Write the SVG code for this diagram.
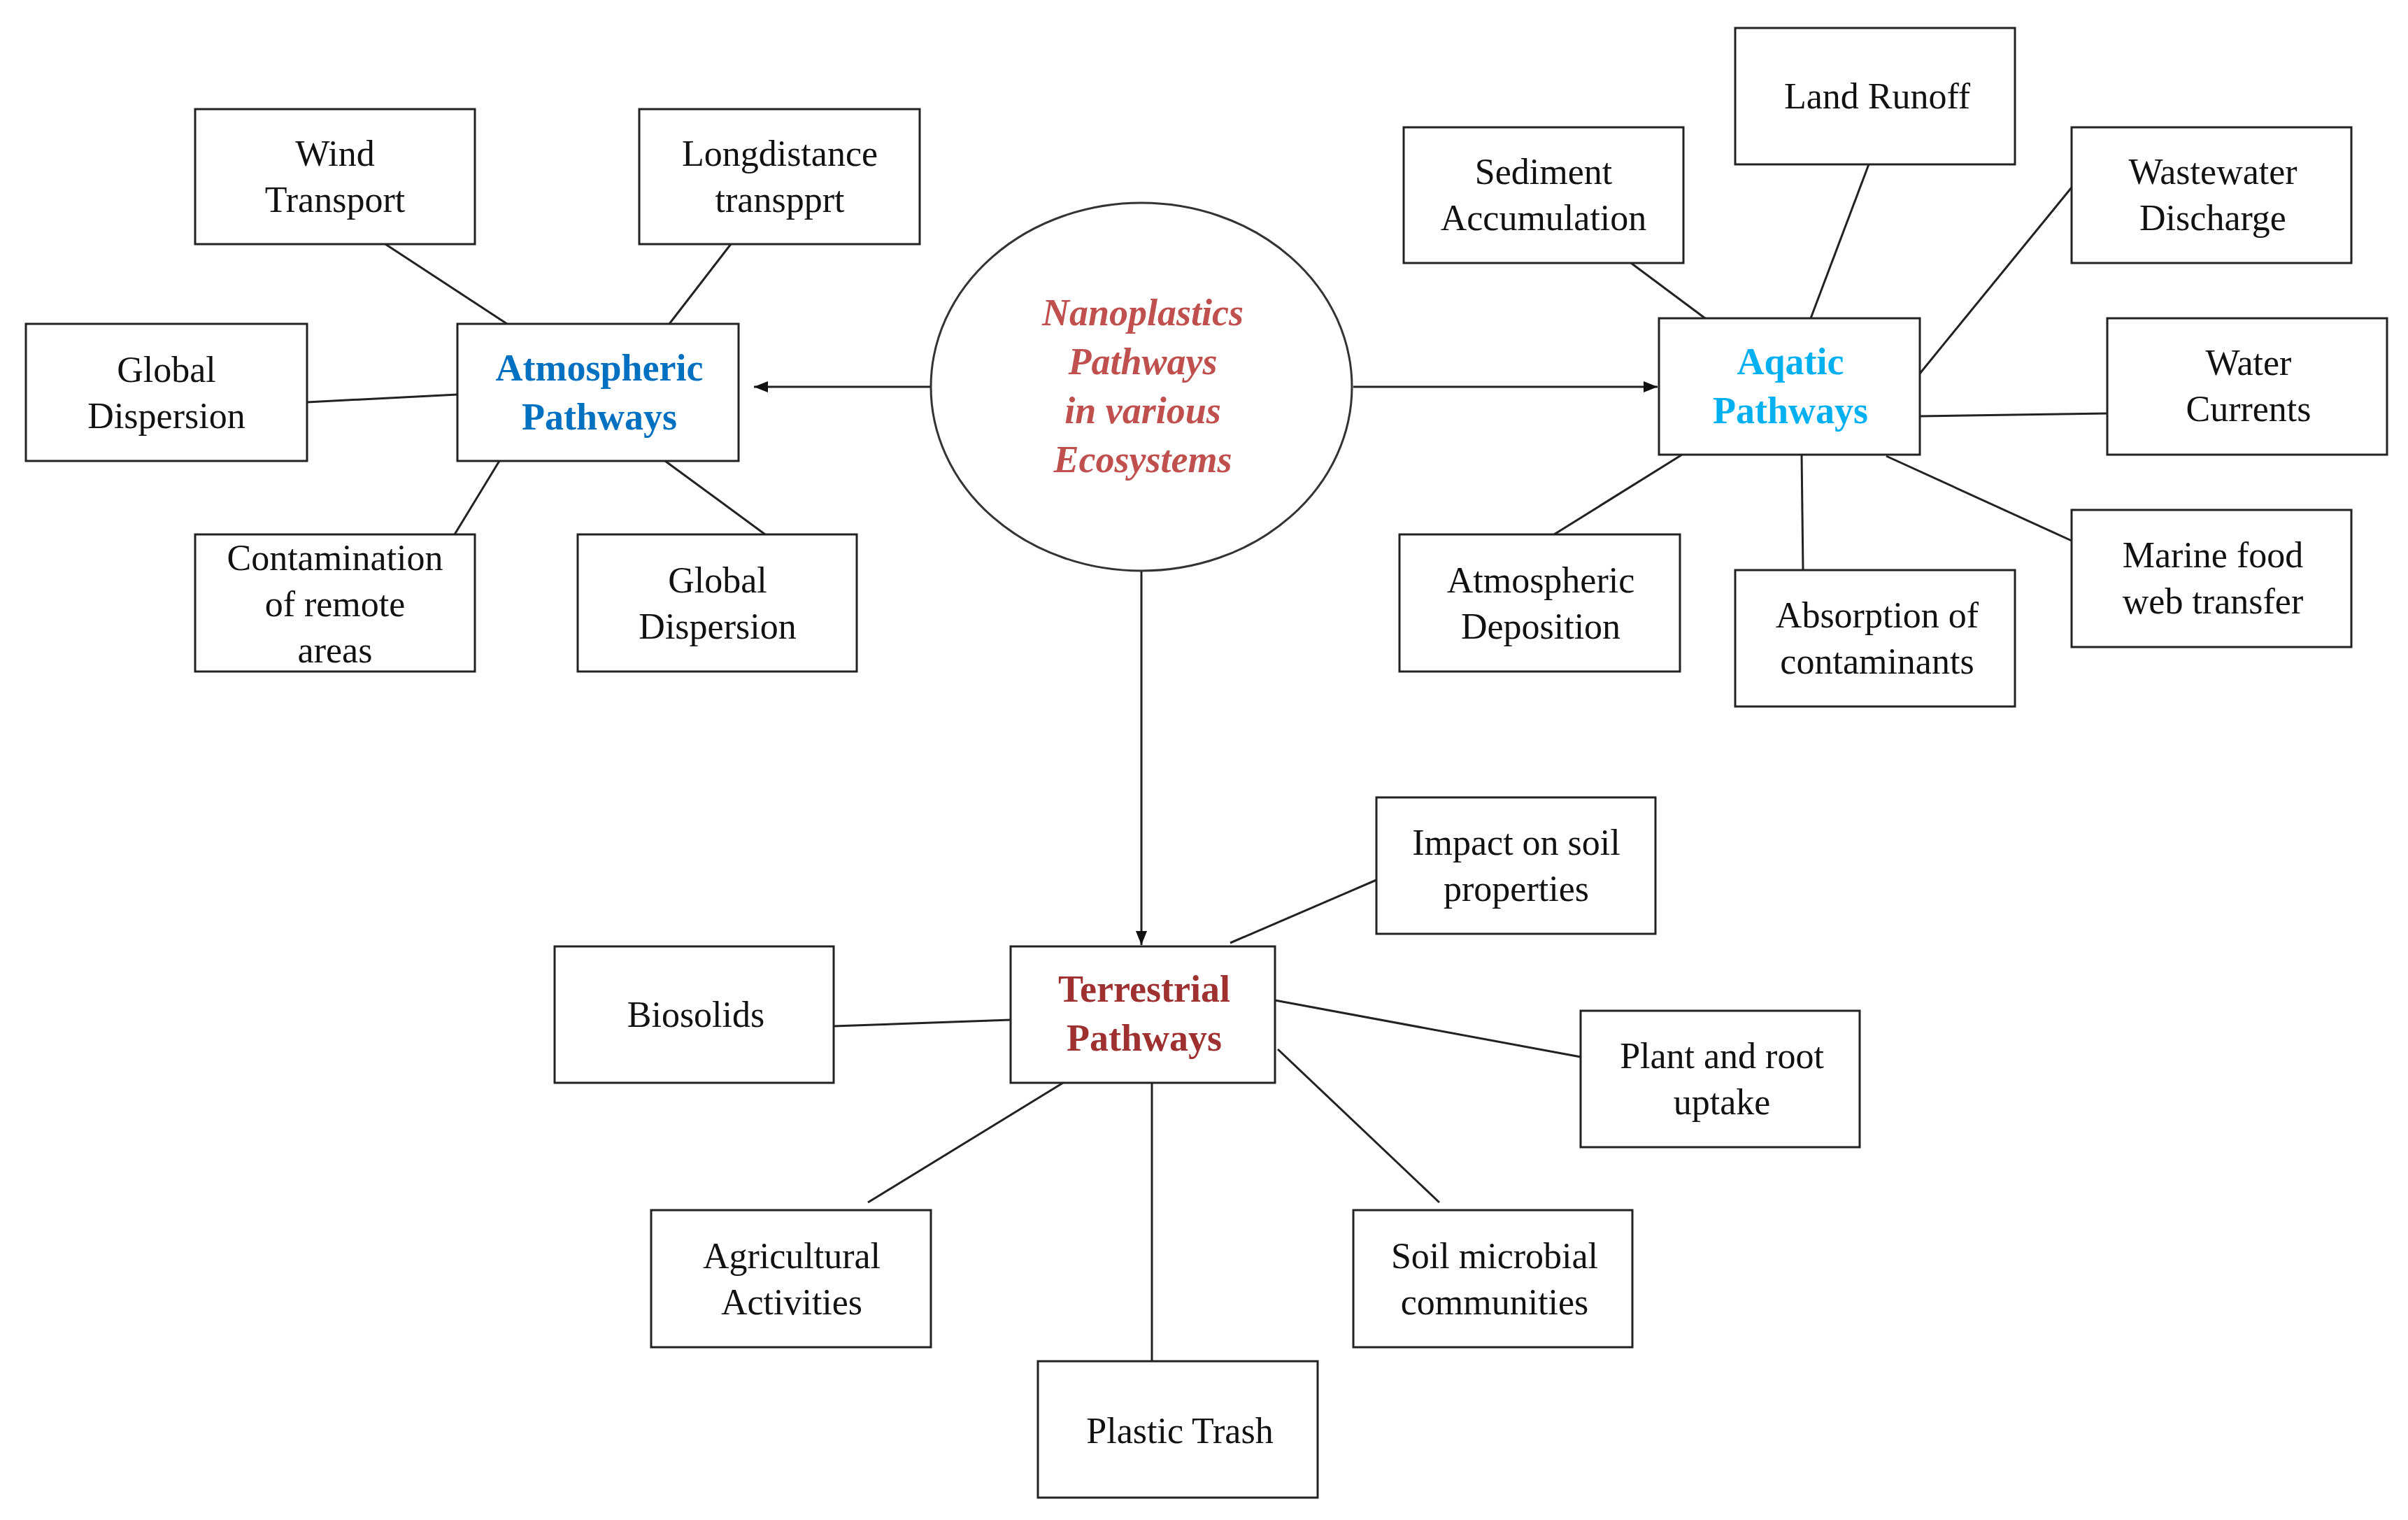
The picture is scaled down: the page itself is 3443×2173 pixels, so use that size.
<svg xmlns="http://www.w3.org/2000/svg" width="3443" height="2173" viewBox="0 0 3443 2173">
<style>
rect{fill:#fff;stroke:#222;stroke-width:3}
.c line{stroke:#222;stroke-width:3}
text{font-family:"Liberation Serif","Times New Roman",serif;font-size:52px;fill:#111;text-anchor:middle}
.t{font-weight:bold;font-size:54px}
</style>
<defs><marker id="a" viewBox="0 0 10 10" refX="10" refY="5" markerWidth="7" markerHeight="7" orient="auto" markerUnits="userSpaceOnUse"><path d="M0,0L10,5L0,10z" fill="#111"/></marker>
<marker id="ah" viewBox="0 0 10 10" refX="10" refY="5" markerWidth="20" markerHeight="20" orient="auto" markerUnits="userSpaceOnUse"><path d="M0,1L10,5L0,9z" fill="#111"/></marker></defs>
<rect x="0" y="0" width="3443" height="2173" style="stroke:none"/>
<g class="c">
<line x1="551" y1="349" x2="725" y2="463"/>
<line x1="1045" y1="349" x2="957" y2="463"/>
<line x1="439" y1="575" x2="654" y2="564"/>
<line x1="650" y1="764" x2="714" y2="659"/>
<line x1="1094" y1="764" x2="951" y2="659"/>
<line x1="1331" y1="553" x2="1078" y2="553" marker-end="url(#ah)"/>
<line x1="1935" y1="553" x2="2370" y2="553" marker-end="url(#ah)"/>
<line x1="1632" y1="817" x2="1632" y2="1351" marker-end="url(#ah)"/>
<line x1="2332" y1="376" x2="2438" y2="455"/>
<line x1="2672" y1="235" x2="2589" y2="455"/>
<line x1="2962" y1="268" x2="2745" y2="534"/>
<line x1="3013" y1="591" x2="2745" y2="595"/>
<line x1="2962" y1="773" x2="2697" y2="652"/>
<line x1="2578" y1="815" x2="2576" y2="650"/>
<line x1="2214" y1="769" x2="2405" y2="650"/>
<line x1="1968" y1="1258" x2="1759" y2="1348"/>
<line x1="1192" y1="1467" x2="1445" y2="1458"/>
<line x1="2260" y1="1511" x2="1823" y2="1430"/>
<line x1="1241" y1="1719" x2="1520" y2="1548"/>
<line x1="1647" y1="1946" x2="1647" y2="1548"/>
<line x1="2058" y1="1719" x2="1827" y2="1500"/>
</g>
<g id="center"><ellipse cx="1632" cy="553" rx="301" ry="263" fill="#fff" stroke="#333" stroke-width="3"/>
<text style="font-style:italic;font-weight:bold;fill:#C0504D;font-size:54px"><tspan x="1634" y="465">Nanoplastics</tspan><tspan x="1634" y="535">Pathways</tspan><tspan x="1634" y="605">in various</tspan><tspan x="1634" y="675">Ecosystems</tspan></text></g>
<g id="atm"><rect x="654" y="463" width="402" height="196"/><text class="t" style="fill:#0070C0"><tspan x="857" y="544">Atmospheric</tspan><tspan x="857" y="614">Pathways</tspan></text></g>
<g id="wind"><rect x="279" y="156" width="400" height="193"/><text><tspan x="479" y="237">Wind</tspan><tspan x="479" y="303">Transport</tspan></text></g>
<g id="long"><rect x="914" y="156" width="401" height="193"/><text><tspan x="1115" y="237">Longdistance</tspan><tspan x="1115" y="303">transpprt</tspan></text></g>
<g id="gd1"><rect x="37" y="463" width="402" height="196"/><text><tspan x="238" y="546">Global</tspan><tspan x="238" y="612">Dispersion</tspan></text></g>
<g id="contam"><rect x="279" y="764" width="400" height="196"/><text><tspan x="479" y="815">Contamination</tspan><tspan x="479" y="881">of remote</tspan><tspan x="479" y="947">areas</tspan></text></g>
<g id="gd2"><rect x="826" y="764" width="399" height="196"/><text><tspan x="1026" y="847">Global</tspan><tspan x="1026" y="913">Dispersion</tspan></text></g>
<g id="aq"><rect x="2372" y="455" width="373" height="195"/><text class="t" style="fill:#00B0F0"><tspan x="2560" y="535">Aqatic</tspan><tspan x="2560" y="605">Pathways</tspan></text></g>
<g id="sed"><rect x="2007" y="182" width="400" height="194"/><text><tspan x="2207" y="263">Sediment</tspan><tspan x="2207" y="329">Accumulation</tspan></text></g>
<g id="land"><rect x="2481" y="40" width="400" height="195"/><text><tspan x="2684" y="155">Land Runoff</tspan></text></g>
<g id="waste"><rect x="2962" y="182" width="400" height="194"/><text><tspan x="3164" y="263">Wastewater</tspan><tspan x="3164" y="329">Discharge</tspan></text></g>
<g id="water"><rect x="3013" y="455" width="400" height="195"/><text><tspan x="3215" y="536">Water</tspan><tspan x="3215" y="602">Currents</tspan></text></g>
<g id="atmdep"><rect x="2001" y="764" width="401" height="196"/><text><tspan x="2203" y="847">Atmospheric</tspan><tspan x="2203" y="913">Deposition</tspan></text></g>
<g id="abs"><rect x="2481" y="815" width="400" height="195"/><text><tspan x="2684" y="897">Absorption of</tspan><tspan x="2684" y="963">contaminants</tspan></text></g>
<g id="marine"><rect x="2962" y="729" width="400" height="196"/><text><tspan x="3164" y="811">Marine food</tspan><tspan x="3164" y="877">web transfer</tspan></text></g>
<g id="ter"><rect x="1445" y="1353" width="378" height="195"/><text class="t" style="fill:#9E3030"><tspan x="1636" y="1432">Terrestrial</tspan><tspan x="1636" y="1502">Pathways</tspan></text></g>
<g id="impact"><rect x="1968" y="1140" width="399" height="195"/><text><tspan x="2168" y="1222">Impact on soil</tspan><tspan x="2168" y="1288">properties</tspan></text></g>
<g id="bio"><rect x="793" y="1353" width="399" height="195"/><text><tspan x="995" y="1468">Biosolids</tspan></text></g>
<g id="plant"><rect x="2260" y="1445" width="399" height="195"/><text><tspan x="2462" y="1527">Plant and root</tspan><tspan x="2462" y="1593">uptake</tspan></text></g>
<g id="agri"><rect x="931" y="1730" width="400" height="196"/><text><tspan x="1132" y="1813">Agricultural</tspan><tspan x="1132" y="1879">Activities</tspan></text></g>
<g id="soil"><rect x="1935" y="1730" width="399" height="196"/><text><tspan x="2137" y="1813">Soil microbial</tspan><tspan x="2137" y="1879">communities</tspan></text></g>
<g id="trash"><rect x="1484" y="1946" width="400" height="195"/><text><tspan x="1687" y="2063">Plastic Trash</tspan></text></g>
</svg>
